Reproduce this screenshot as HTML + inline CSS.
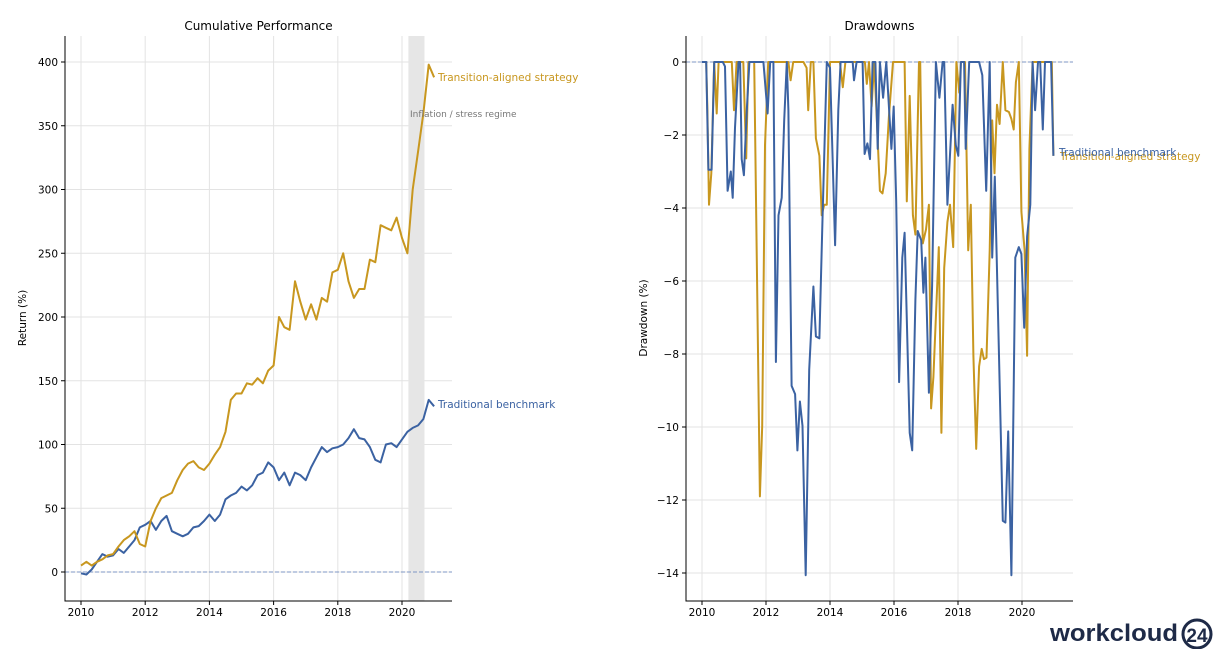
<!DOCTYPE html>
<html><head><meta charset="utf-8"><style>
html,body{margin:0;padding:0;background:#fff;}
svg{display:block;font-family:"DejaVu Sans","Liberation Sans",sans-serif;}
</style></head><body>
<svg id="c" width="1220" height="649" viewBox="0 0 1220 649"></svg>
<script>
// ---- Cumulative data (every 2 months from 2010.0) ----
const cumStart = 2010;
const cumStep = 1/6;
const stratCum = [5,8,5,8,10,13,14,20,25,28,32,22,20,40,50,58,60,62,72,80,85,87,82,80,85,92,98,110,135,140,140,148,147,152,148,158,162,200,192,190,228,212,198,210,198,215,212,235,237,250,228,215,222,222,245,243,272,270,268,278,262,250,300,330,360,398,388];
const benchCum = [-1,-2,2,8,14,12,13,18,15,20,25,35,37,40,33,40,44,32,30,28,30,35,36,40,45,40,45,57,60,62,67,64,68,76,78,86,82,72,78,68,78,76,72,82,90,98,94,97,98,100,105,112,105,104,98,88,86,100,101,98,104,110,113,115,120,135,130];
const cumYTicks = [0,50,100,150,200,250,300,350,400];
const xTickYears = [2010,2012,2014,2016,2018,2020];
const regimeStart = 2020.2, regimeEnd = 2020.7;
// ---- Drawdown data ----
const benchDDYears = [2010.00,2010.13,2010.20,2010.30,2010.38,2010.65,2010.72,2010.80,2010.90,2010.96,2011.03,2011.14,2011.19,2011.24,2011.31,2011.40,2011.48,2011.92,2012.05,2012.13,2012.23,2012.31,2012.39,2012.49,2012.57,2012.65,2012.70,2012.80,2012.91,2012.98,2013.06,2013.14,2013.24,2013.35,2013.48,2013.56,2013.67,2013.77,2013.90,2014.00,2014.16,2014.26,2014.33,2014.71,2014.75,2014.83,2015.02,2015.08,2015.17,2015.25,2015.33,2015.42,2015.49,2015.56,2015.66,2015.76,2015.92,2015.99,2016.07,2016.16,2016.26,2016.33,2016.49,2016.57,2016.67,2016.74,2016.85,2016.92,2016.98,2017.09,2017.19,2017.31,2017.42,2017.52,2017.57,2017.67,2017.83,2017.93,2018.01,2018.09,2018.19,2018.24,2018.35,2018.66,2018.76,2018.88,2018.99,2019.07,2019.15,2019.28,2019.40,2019.48,2019.57,2019.67,2019.79,2019.90,2019.98,2020.07,2020.16,2020.26,2020.33,2020.41,2020.50,2020.57,2020.65,2020.72,2020.91,2020.98];
const benchDD = [0,0,-2.95,-2.95,0,0,-0.12,-3.53,-3.0,-3.72,-1.8,0,0,-2.66,-3.1,-1.32,0,0,-1.41,0,0,-8.22,-4.2,-3.72,-1.6,0,-1.32,-8.87,-9.1,-10.64,-9.3,-9.97,-14.06,-8.43,-6.15,-7.52,-7.57,-4.2,0,-0.16,-5.02,-1.32,0,0,-0.5,0,0,-2.52,-2.23,-2.66,0,0,-2.38,0,-0.98,0,-2.38,-1.22,-3.82,-8.77,-5.36,-4.68,-10.16,-10.64,-6.51,-4.63,-4.88,-6.32,-5.36,-9.06,-6.13,0,-0.98,0,0,-3.91,-1.17,-2.28,-2.57,0,0,-2.38,0,0,-0.36,-3.53,0,-5.36,-3.14,-8.05,-12.57,-12.62,-10.12,-14.06,-5.36,-5.07,-5.26,-7.28,-4.78,-3.91,0,-1.32,0,0,-1.85,0,0,-2.57];
const stratDDYears = [2010.00,2010.13,2010.17,2010.22,2010.29,2010.38,2010.46,2010.52,2010.93,2011.00,2011.08,2011.29,2011.38,2011.45,2011.63,2011.81,2011.88,2011.97,2012.07,2012.70,2012.77,2012.85,2013.17,2013.27,2013.32,2013.40,2013.48,2013.56,2013.67,2013.74,2013.82,2013.90,2014.00,2014.31,2014.40,2014.48,2015.09,2015.15,2015.22,2015.30,2015.38,2015.46,2015.56,2015.64,2015.74,2015.84,2015.97,2016.33,2016.40,2016.49,2016.59,2016.67,2016.78,2016.82,2016.90,2017.00,2017.09,2017.16,2017.23,2017.40,2017.48,2017.57,2017.67,2017.75,2017.85,2017.95,2018.04,2018.09,2018.22,2018.32,2018.40,2018.48,2018.57,2018.66,2018.74,2018.81,2018.89,2018.99,2019.07,2019.14,2019.22,2019.30,2019.40,2019.48,2019.59,2019.67,2019.74,2019.81,2019.90,2019.98,2020.08,2020.16,2020.23,2020.33,2020.93,2020.98];
const stratDD = [0,0,-1.32,-3.91,-3.05,0,-1.41,0,0,-1.32,0,0,-2.64,0,0,-11.9,-9.97,-2.28,0,0,-0.5,0,0,-0.16,-1.32,0,0,-2.09,-2.57,-4.2,-3.91,-3.91,0,0,-0.69,0,0,-0.6,0,-1.22,0,-1.5,-3.53,-3.6,-3.05,-1.5,0,0,-3.82,-0.93,-4.2,-4.73,0,0,-4.97,-4.59,-3.91,-9.49,-8.63,-5.07,-10.16,-5.64,-4.39,-3.91,-5.07,0,-0.84,0,0,-5.16,-3.91,-8.05,-10.6,-8.34,-7.86,-8.14,-8.1,-5.16,-1.6,-3.05,-1.17,-1.7,0,-1.32,-1.37,-1.56,-1.85,-0.55,0,-4.1,-5.16,-8.05,-2.38,0,0,-2.57];
const ddYTicks = [0,-2,-4,-6,-8,-10,-12,-14];

const GOLD="#c8971f", BLUE="#3b62a2";
const svg=document.getElementById('c');
const NS="http://www.w3.org/2000/svg";
function mk(tag,attrs,parent){const e=document.createElementNS(NS,tag);for(const k in attrs)e.setAttribute(k,attrs[k]);(parent||svg).appendChild(e);return e;}
function txt(s,attrs,parent){const e=mk('text',attrs,parent);e.textContent=s;return e;}

function panel(cfg){
  const g=mk('g',{});
  
  
  const X=y=>cfg.x0+(y-2010)*cfg.xs, Y=v=>cfg.y0+(v-cfg.v0)*cfg.ys;
  xTickYears.forEach(t=>{const l=mk('line',{x1:X(t),x2:X(t),y1:cfg.top,y2:601,stroke:'#e3e3e3','stroke-width':1},g);
    });
  cfg.yTicks.forEach(t=>{const l=mk('line',{x1:cfg.left,x2:cfg.right,y1:Y(t),y2:Y(t),stroke:'#e3e3e3','stroke-width':1},g);
    });
  if(cfg.regime){const r=mk('rect',{x:X(regimeStart),y:cfg.top,width:X(regimeEnd)-X(regimeStart),height:601-cfg.top,fill:'#e6e6e6'},g);
    }
  const z=mk('line',{x1:cfg.left,x2:cfg.right,y1:Y(0),y2:Y(0),stroke:'#7f97c4','stroke-width':0.9,'stroke-dasharray':'4,2'},g);
  
  const ax=mk('path',{d:`M${cfg.left},${cfg.top}V601H${cfg.right}`,fill:'none',stroke:'#000','stroke-width':1},g);
  
  xTickYears.forEach(t=>{mk('line',{x1:X(t),x2:X(t),y1:601,y2:605,stroke:'#000'},g);
    const l=txt(String(t),{x:X(t),y:616,'font-size':10.5,'text-anchor':'middle',fill:'#000'},g);
    });
  cfg.yTicks.forEach(t=>{mk('line',{x1:cfg.left-4,x2:cfg.left,y1:Y(t),y2:Y(t),stroke:'#000'},g);
    const l=txt(t<0?'\u2212'+(-t):String(t),{x:cfg.left-7,y:Y(t)+4,'font-size':10.5,'text-anchor':'end',fill:'#000'},g);
    });
  const ti=txt(cfg.title,{x:(cfg.left+cfg.right)/2,y:30,'font-size':12,'text-anchor':'middle',fill:'#000'},g);
  
  const yl=txt(cfg.ylabel,{x:0,y:0,'font-size':10.5,'text-anchor':'middle',fill:'#000',transform:`translate(${cfg.left-39},318) rotate(-90)`},g);
  
  cfg.series.forEach(s=>{
    const d=s.vals.map((v,i)=>(i?'L':'M')+X(s.years[i]).toFixed(1)+','+Y(v).toFixed(1)).join('');
    const p=mk('path',{d:d,fill:'none',stroke:s.color,'stroke-width':2,'stroke-linejoin':'round'},g);
    
  });
  return {X,Y,g};
}
const cumYears=stratCum.map((_,i)=>cumStart+i*cumStep);
panel({name:'cumulative-performance-chart',title:'Cumulative Performance',ylabel:'Return (%)',left:65,right:452,top:36,x0:81,xs:32.1,y0:572,v0:0,ys:-1.275,yTicks:cumYTicks,regime:true,
  series:[{name:'benchmark-cumulative-line',years:cumYears,vals:benchCum,color:BLUE},{name:'strategy-cumulative-line',years:cumYears,vals:stratCum,color:GOLD}]});
panel({name:'drawdowns-chart',title:'Drawdowns',ylabel:'Drawdown (%)',left:686,right:1073,top:36,x0:702,xs:32,y0:62,v0:0,ys:-36.5,yTicks:ddYTicks,regime:false,
  series:[{name:'strategy-drawdown-line',years:stratDDYears,vals:stratDD,color:GOLD},{name:'benchmark-drawdown-line',years:benchDDYears,vals:benchDD,color:BLUE}]});
let a;
a=txt('Transition-aligned strategy',{x:438,y:81,'font-size':10.5,fill:GOLD});
a=txt('Traditional benchmark',{x:438,y:408,'font-size':10.5,fill:BLUE});
a=txt('Inflation / stress regime',{x:410,y:117,'font-size':9,fill:'#777'});
a=txt('Transition-aligned strategy',{x:1060,y:160,'font-size':10.5,fill:GOLD});
a=txt('Traditional benchmark',{x:1059,y:156,'font-size':10.5,fill:BLUE});
const lg=mk('g',{});
txt('workcloud',{x:1050,y:641,'font-size':24,'font-weight':'bold',fill:'#1e2a47','font-family':'Liberation Sans, sans-serif',textLength:128,lengthAdjust:'spacingAndGlyphs'},lg);
mk('circle',{cx:1197,cy:634,r:14,fill:'none',stroke:'#1e2a47','stroke-width':3},lg);
txt('24',{x:1197,y:642,'font-size':19,'font-weight':'bold','text-anchor':'middle',fill:'#1e2a47','font-family':'Liberation Sans, sans-serif'},lg);
</script>
</body></html>
